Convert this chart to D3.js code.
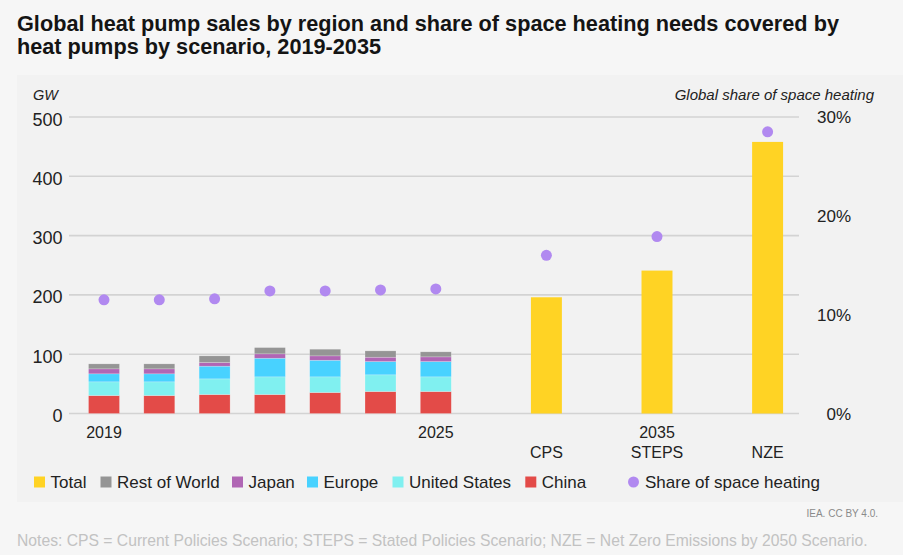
<!DOCTYPE html>
<html>
<head>
<meta charset="utf-8">
<script src="https://cdn.jsdelivr.net/npm/d3@7/dist/d3.min.js"></script>
<style>
  html, body { margin: 0; padding: 0; background: #f6f6f6; }
  svg { display: block; font-family: "Liberation Sans", Arial, sans-serif; }
</style>
</head>
<body>
<svg id="chart" width="903" height="555"></svg>
<script>
// ---- Data ----
const years = ["2019", "2020", "2021", "2022", "2023", "2024", "2025"];
const scenarios = ["CPS", "STEPS", "NZE"];
const china        = [30.3, 30.3, 32.0, 32.0, 35.4, 37.1, 37.1];
const unitedStates = [23.1, 23.1, 26.4, 29.8, 26.4, 28.1, 24.7];
const europe       = [13.5, 13.5, 21.4, 31.4, 28.0, 22.4, 25.8];
const japan        = [8.4, 8.4, 6.2, 7.4, 7.4, 7.3, 7.9];
const restOfWorld  = [8.4, 8.4, 11.2, 10.6, 11.2, 10.7, 8.5];
const scenarioTotal = [196, 241, 458];
const shareYears = [11.5, 11.5, 11.6, 12.4, 12.4, 12.5, 12.6];
const shareScenarios = [16.0, 17.9, 28.5];
const leftTicks = [0, 100, 200, 300, 400, 500];
const rightTicks = [0, 10, 20, 30];
const xTickTop = { "2019": "2019", "2025": "2025", "STEPS": "2035" };
const xTickBottom = { "CPS": "CPS", "STEPS": "STEPS", "NZE": "NZE" };
const seriesNames = ["China", "United States", "Europe", "Japan", "Rest of World"];
const seriesValues = [china, unitedStates, europe, japan, restOfWorld];
const legendItems = ["Total", "Rest of World", "Japan", "Europe", "United States", "China"];

const colors = {
  "Total": "#ffd324",
  "Rest of World": "#959595",
  "Japan": "#b066b4",
  "Europe": "#48d2ff",
  "United States": "#80f0f0",
  "China": "#e34b48",
  "Share": "#b189f0"
};

// ---- Layout ----
const svg = d3.select("#chart");
svg.append("rect").attr("x", 17).attr("y", 75).attr("width", 886).attr("height", 427).attr("fill", "#f2f2f2");

const slots = [...years, "gap1", scenarios[0], "gap2", scenarios[1], "gap3", scenarios[2]];
const x = d3.scaleBand().domain(slots).range([76.35, 795.25]).paddingInner(0.44).paddingOuter(0.22);
const y = d3.scaleLinear().domain([0, 500]).range([413.5, 117]);
const y2 = d3.scaleLinear().domain([0, 30]).range([413.5, 117]);

// Title
const title = svg.append("text").attr("fill", "#141414").attr("font-weight", "bold").attr("font-size", "21.7px");
title.append("tspan").attr("x", 17).attr("y", 30.5).text("Global heat pump sales by region and share of space heating needs covered by");
title.append("tspan").attr("x", 17).attr("y", 54).text("heat pumps by scenario, 2019-2035");

// Gridlines
svg.append("g").selectAll("line").data(leftTicks).join("line")
  .attr("x1", 69).attr("x2", 799)
  .attr("y1", d => y(d)).attr("y2", d => y(d))
  .attr("stroke", "#d3d3d3").attr("stroke-width", 1.6);

// Left axis labels
svg.append("g").selectAll("text").data(leftTicks).join("text")
  .attr("x", 62.5).attr("y", d => y(d) + 8.5)
  .attr("text-anchor", "end").attr("font-size", "18px").attr("fill", "#222")
  .text(d => d);

// Right axis labels
svg.append("g").selectAll("text").data(rightTicks).join("text")
  .attr("x", 851).attr("y", d => y2(d) + 6)
  .attr("text-anchor", "end").attr("font-size", "17px").attr("fill", "#222")
  .text(d => d + "%");

// Axis titles
svg.append("text").attr("x", 33).attr("y", 99.5).attr("font-size", "14.5px").attr("font-style", "italic").attr("fill", "#222").text("GW");
svg.append("text").attr("x", 874).attr("y", 100).attr("text-anchor", "end").attr("font-size", "15px").attr("font-style", "italic").attr("fill", "#222").text("Global share of space heating");

// Stacked bars
const stackData = years.map((yr, i) => {
  const o = { year: yr };
  seriesNames.forEach((s, j) => { o[s] = seriesValues[j][i]; });
  return o;
});
const stacked = d3.stack().keys(seriesNames)(stackData);
svg.append("g").selectAll("g").data(stacked).join("g")
  .attr("fill", d => colors[d.key])
  .selectAll("rect").data(d => d).join("rect")
  .attr("x", d => x(d.data.year))
  .attr("width", x.bandwidth())
  .attr("y", d => y(d[1]))
  .attr("height", d => y(d[0]) - y(d[1]))
  .attr("stroke", "#ffffff").attr("stroke-opacity", 0.35).attr("stroke-width", 0.6);

// Scenario bars
svg.append("g").selectAll("rect").data(scenarios).join("rect")
  .attr("x", d => x(d))
  .attr("width", x.bandwidth())
  .attr("y", (d, i) => y(scenarioTotal[i]))
  .attr("height", (d, i) => y(0) - y(scenarioTotal[i]))
  .attr("fill", colors["Total"]);

// Share dots
const shareData = [...years.map((d, i) => ({ k: d, v: shareYears[i] })), ...scenarios.map((d, i) => ({ k: d, v: shareScenarios[i] }))];
svg.append("g").selectAll("circle").data(shareData).join("circle")
  .attr("cx", d => x(d.k) + x.bandwidth() / 2)
  .attr("cy", d => y2(d.v))
  .attr("r", 5.5)
  .attr("fill", colors["Share"]);

// X tick labels
svg.append("g").selectAll("text").data(Object.keys(xTickTop)).join("text")
  .attr("x", d => x(d) + x.bandwidth() / 2).attr("y", 437.5)
  .attr("text-anchor", "middle").attr("font-size", "16px").attr("fill", "#222")
  .text(d => xTickTop[d]);
svg.append("g").selectAll("text").data(Object.keys(xTickBottom)).join("text")
  .attr("x", d => x(d) + x.bandwidth() / 2).attr("y", 457.5)
  .attr("text-anchor", "middle").attr("font-size", "16px").attr("fill", "#222")
  .text(d => xTickBottom[d]);

// Legend
const legendX = [34, 100.5, 232, 307, 392.5, 525.3];
const lg = svg.append("g");
legendItems.forEach((name, i) => {
  lg.append("rect").attr("x", legendX[i]).attr("y", 476.5).attr("width", 11).attr("height", 11).attr("fill", colors[name]);
  lg.append("text").attr("x", legendX[i] + 16.5).attr("y", 488).attr("font-size", "17px").attr("fill", "#222").text(name);
});
lg.append("circle").attr("cx", 633.5).attr("cy", 482).attr("r", 5.5).attr("fill", colors["Share"]);
lg.append("text").attr("x", 645).attr("y", 488).attr("font-size", "17px").attr("fill", "#222").text("Share of space heating");

// Source & notes
svg.append("text").attr("x", 878).attr("y", 517).attr("text-anchor", "end").attr("font-size", "10px").attr("fill", "#8a8a8a").text("IEA. CC BY 4.0.");
svg.append("text").attr("x", 17).attr("y", 546).attr("font-size", "15.7px").attr("fill", "#c2c2c2")
  .text("Notes: CPS = Current Policies Scenario; STEPS = Stated Policies Scenario; NZE = Net Zero Emissions by 2050 Scenario.");
</script>
</body>
</html>
